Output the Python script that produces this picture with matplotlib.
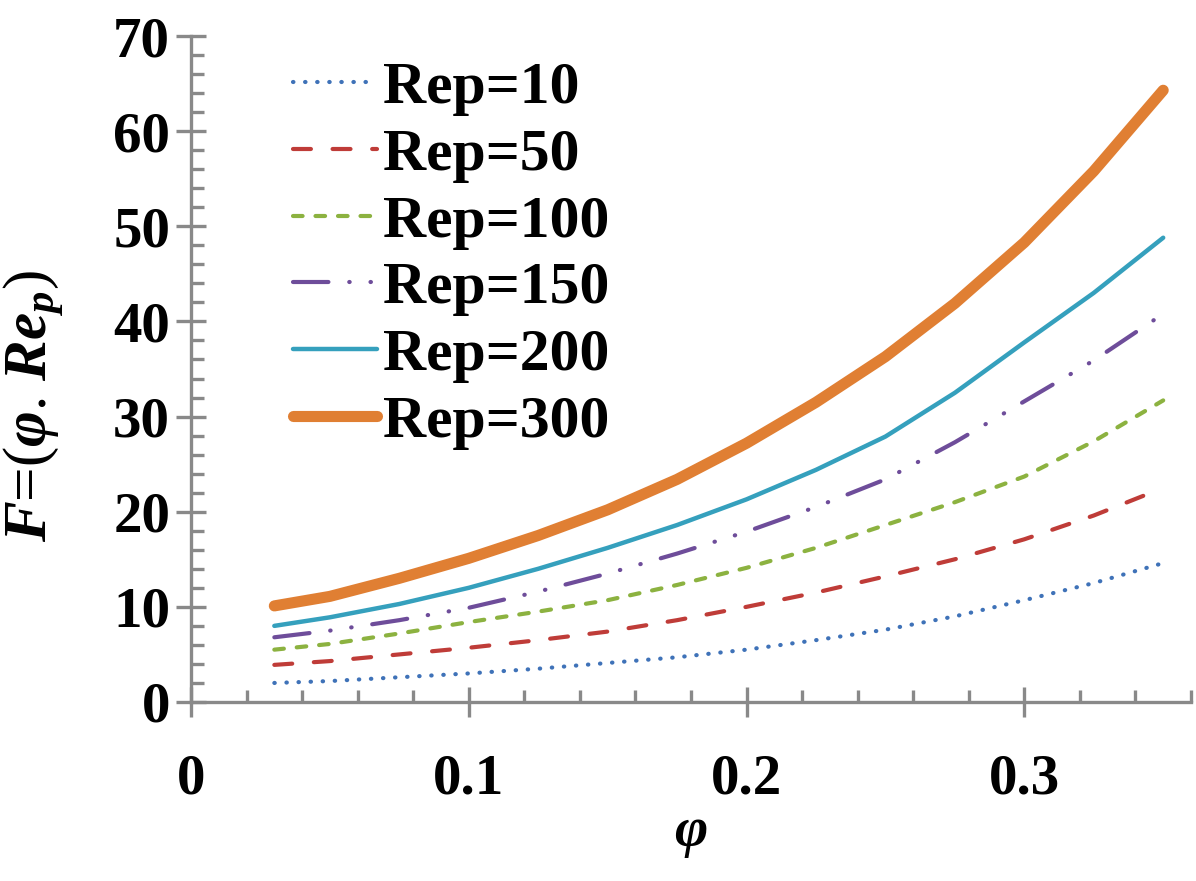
import numpy as np
import matplotlib
matplotlib.use("Agg")
import matplotlib.pyplot as plt
from matplotlib.ticker import MultipleLocator

# ----------------------------
# Data
# ----------------------------

phi = [0.03, 0.05, 0.075, 0.10, 0.125, 0.15, 0.175, 0.20,
       0.225, 0.25, 0.275, 0.30, 0.325, 0.35]

rep10 = [2.0, 2.2, 2.6, 3.0, 3.5, 4.1, 4.7, 5.5, 6.5, 7.6, 9.0, 10.7, 12.5, 14.6]
rep50 = [3.9, 4.3, 5.0, 5.7, 6.5, 7.4, 8.6, 10.0, 11.5, 13.2, 15.0, 17.1, 19.6, 22.5]
rep100 = [5.5, 6.1, 7.2, 8.4, 9.5, 10.7, 12.3, 14.1, 16.2, 18.6, 21.0, 23.7, 27.4, 31.7]
rep150 = [6.8, 7.5, 8.6, 9.9, 11.6, 13.5, 15.6, 17.9, 20.5, 23.4, 27.3, 31.6, 35.9, 40.8]
rep200 = [8.0, 8.9, 10.3, 12.0, 14.0, 16.2, 18.6, 21.3, 24.4, 27.9, 32.5, 37.8, 43.0, 48.8]
rep300 = [10.1, 11.1, 13.0, 15.1, 17.5, 20.2, 23.4, 27.2, 31.5, 36.3, 41.9, 48.3, 55.8, 64.3]

labels = ["Rep=10", "Rep=50", "Rep=100", "Rep=150", "Rep=200", "Rep=300"]

# ----------------------------
# Style
# ----------------------------

plt.rcParams["font.family"] = ["Liberation Serif", "DejaVu Serif"]
plt.rcParams["font.weight"] = "bold"
plt.rcParams["mathtext.fontset"] = "custom"
plt.rcParams["mathtext.rm"] = "Liberation Serif:bold"
plt.rcParams["mathtext.it"] = "Liberation Serif:italic:bold"
plt.rcParams["mathtext.bf"] = "Liberation Serif:bold"

axis_gray = "#898989"

fig = plt.figure(figsize=(11.96, 8.81), dpi=100)
ax = fig.add_axes([0.1597, 0.2032, 0.8361, 0.7559])

series = [rep10, rep50, rep100, rep150, rep200, rep300]
colors = ["#3f72b8", "#bf3c38", "#8cb240", "#6e4d9a", "#35a0bd", "#e07f33"]
widths = [3.0, 3.0, 3.0, 3.0, 3.2, 8.0]
dashes = [
    (0.1, 2.8),
    (4.3, 5.2),
    (2.3, 3.1),
    (8.5, 5.0, 0.1, 5.0, 0.1, 5.0),
    None,
    None,
]

for ys, c, lw, d, lab in zip(series, colors, widths, dashes, labels):
    line, = ax.plot(phi, ys, color=c, lw=lw, label=lab,
                    solid_capstyle="round", dash_capstyle="round",
                    solid_joinstyle="round")
    if d is not None:
        line.set_dashes(d)

ax.set_xlim(0, 0.36)
ax.set_ylim(0, 70)

ax.xaxis.set_minor_locator(MultipleLocator(0.02))
ax.yaxis.set_major_locator(MultipleLocator(10))
ax.yaxis.set_minor_locator(MultipleLocator(2))
ax.set_xticks([0, 0.1, 0.2, 0.3])
ax.set_xticklabels(["0", "0.1", "0.2", "0.3"])

for side in ["top", "right"]:
    ax.spines[side].set_visible(False)
for side in ["left", "bottom"]:
    ax.spines[side].set_color(axis_gray)
    ax.spines[side].set_linewidth(2.4)

ax.tick_params(which="major", direction="inout", length=22, width=2.4,
               color=axis_gray, labelsize=41)
ax.tick_params(which="minor", direction="in", length=9, width=2.4,
               color=axis_gray)
ax.tick_params(axis="x", which="major", pad=26)
ax.tick_params(axis="y", which="major", pad=4)

ax.set_xlabel(r"$\varphi$", fontsize=41, labelpad=2)
ax.set_ylabel(r"$F$=($\varphi$. $Re_p$)", fontsize=44)
ax.yaxis.set_label_coords(-0.125, 0.445)

ax.legend(loc="upper left", bbox_to_anchor=(0.102, 0.962), frameon=False,
          fontsize=43, handlelength=1.4, handletextpad=0.1,
          labelspacing=0.2, borderaxespad=0, borderpad=0)

fig.savefig("out.png", dpi=100)
